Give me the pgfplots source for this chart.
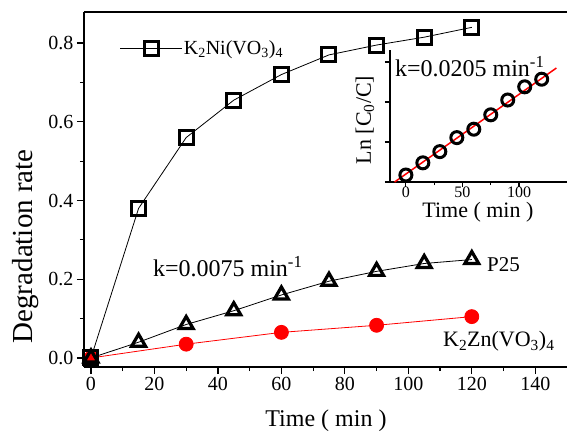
\documentclass[border=0pt]{standalone}
\usepackage{fontspec}
\setmainfont{Liberation Serif}
\usepackage{pgfplots}
\pgfplotsset{compat=1.18}

\newcommand{\fs}[1]{\fontsize{#1bp}{#1bp}\selectfont}
\newcommand{\sub}[1]{\textsubscript{#1}}

\begin{document}
\begin{tikzpicture}
\begin{axis}[
  name=main,
  scale only axis, width=483bp, height=355bp,
  xmin=-2.2, xmax=150, ymin=-0.023, ymax=0.879,
  axis x line=box, axis y line*=left,
  axis line style={line width=1.2bp, -},
  xtick pos=left, ytick pos=left,
  tick align=outside,
  major tick length=7bp, minor tick length=4bp,
  every tick/.style={line width=1.2bp, black},
  xtick={0,20,...,140}, ytick={0,0.2,0.4,0.6,0.8},
  minor x tick num=1, minor y tick num=1,
  yticklabel style={/pgf/number format/.cd, fixed, fixed zerofill, precision=1},
  /pgf/number format/assume math mode=true,
  tick label style={font=\fs{20}},
  xlabel={Time ( min )}, ylabel={Degradation rate},
  xlabel style={font=\fs{24}, at={(axis description cs:0.501,-0.152)}, anchor=center},
  ylabel style={font=\fs{29}, at={(axis description cs:-0.12,0.34)}, anchor=center},
  legend style={draw=none, fill=none, at={(axis cs:9.1,0.787)}, anchor=west,
    inner sep=0pt, font=\fs{20}, nodes={inner sep=1bp}},
  legend image code/.code={\draw[mark repeat=2, mark phase=2, #1] plot coordinates {(0bp,0bp) (31bp,0bp) (62bp,0bp)};},
]
\addplot[red, line width=0.8bp, mark=*, mark size=7bp, mark options={fill=red, draw=red}, forget plot]
  coordinates {(0,0) (30,0.035) (60,0.065) (90,0.083) (120,0.105)};
\addplot[black, line width=0.8bp, mark=square, mark size=7bp, mark options={fill=white, line width=3bp}]
  coordinates {(0,0) (15,0.38) (30,0.56) (45,0.655) (60,0.72) (75,0.77) (90,0.795) (105,0.815) (120,0.84)};
\addlegendentry{K\sub{2}Ni(VO\sub{3})\sub{4}}
\addplot[black, line width=0.8bp, mark=triangle, mark size=8bp, mark options={fill=white, line width=3.2bp}, forget plot]
  coordinates {(0,0) (15,0.04) (30,0.085) (45,0.12) (60,0.16) (75,0.195) (90,0.22) (105,0.24) (120,0.25)};
\node[anchor=west, font=\fs{21}, inner sep=0pt] at (axis cs:124.8,0.236) {P25};
\node[anchor=base west, font=\fs{22}, inner sep=0pt] at (axis cs:110.9,0.028) {K\sub{2}Zn(VO\sub{3})\sub{4}};
\node[anchor=base west, font=\fs{24}, inner sep=0pt] at (axis cs:19.5,0.206) {k=0.0075 min\textsuperscript{-1}};
\coordinate (ins) at (axis cs:94.2,0.447);
\end{axis}

\begin{axis}[
  at={(ins)}, anchor=south west,
  scale only axis, width=177bp, height=132bp,
  xmin=-14.1, xmax=142.3, ymin=0, ymax=3.3,
  axis x line*=bottom, axis y line*=left,
  axis line style={line width=1.2bp, -},
  tick align=outside,
  major tick length=5bp, minor tick length=3bp,
  every tick/.style={line width=1.2bp, black},
  xtick={0,50,100}, ytick={0,1,2,3}, yticklabels={},
  minor x tick num=1,
  /pgf/number format/assume math mode=true,
  tick label style={font=\fs{16}},
  xticklabel style={yshift=4bp},
  xlabel={Time ( min )}, ylabel={Ln [C\sub{0}/C]},
  xlabel style={font=\fs{22}, at={(axis description cs:0.497,-0.225)}, anchor=center},
  ylabel style={font=\fs{22}, at={(axis description cs:-0.141,0.47)}, anchor=center},
]
\addplot[only marks, black, mark=o, mark size=6bp, mark options={line width=3bp}]
  coordinates {(0,0.175) (15,0.48) (30,0.76) (45,1.11) (60,1.32) (75,1.68) (90,2.05) (105,2.38) (120,2.57)};
\addplot[red, line width=1.5bp] coordinates {(-10,0) (133,2.85)};
\node[anchor=base west, font=\fs{24}, inner sep=0pt] at (axis cs:-9.7,2.63) {k=0.0205 min\textsuperscript{-1}};
\end{axis}

\pgfresetboundingbox
\path[use as bounding box] ([xshift=-84bp,yshift=-66bp]main.south west) rectangle ([yshift=12bp]main.north east);
\end{tikzpicture}
\end{document}
